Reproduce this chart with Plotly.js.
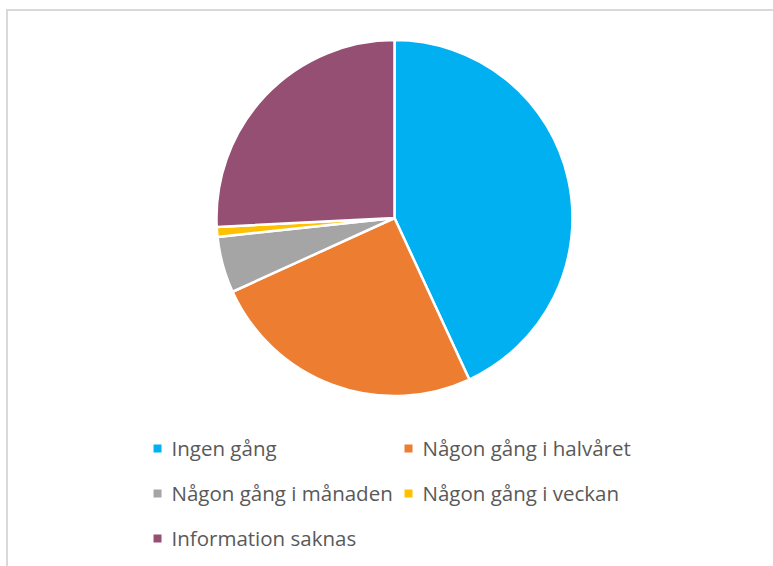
<!DOCTYPE html>
<html>
<head>
<meta charset="utf-8">
<script src="https://cdn.plot.ly/plotly-3.0.1.min.js"></script>
<style>
  html, body { margin: 0; padding: 0; background: #ffffff; }
  #wrap { position: relative; width: 773px; height: 566px; overflow: hidden; }
  #chart { width: 773px; height: 566px; }
  #frame { position: absolute; left: 6px; top: 9px; right: -10px; bottom: -10px;
           border-top: 2px solid #d9d9d9; border-left: 2px solid #d9d9d9; pointer-events: none; }
  /* smaller legend swatches, closer to their labels, as in the reference */
  #chart path.legendpie { d: path("M10,4H2V-4H10Z"); stroke-width: 0 !important; }
</style>
</head>
<body>
<div id="wrap">
  <div id="chart"></div>
  <div id="frame"></div>
</div>
<script>
const categories = ["Ingen gång", "Någon gång i halvåret", "Någon gång i månaden", "Någon gång i veckan", "Information saknas"];
const shares = [43.1, 25.1, 5.1, 0.9, 25.8];
const sliceColors = ["#00B0F0", "#ED7D31", "#A5A5A5", "#FFC000", "#954F72"];

// legend rows in the reference are widely spaced: a large legend font sets the row height,
// while the visible label text is rendered at its own size
const legendLabels = categories.map(c => '<span style="font-size:20.5px;baseline-shift:4.6px">' + c + '</span>');

const trace = {
  type: "pie",
  labels: legendLabels,
  values: shares,
  sort: false,
  direction: "clockwise",
  rotation: 0,
  textinfo: "none",
  hoverinfo: "label+percent",
  marker: { colors: sliceColors, line: { color: "#ffffff", width: 2.5 } },
  domain: { x: [0, 1], y: [0, 1] }
};

const layout = {
  width: 773,
  height: 566,
  margin: { l: 128, r: 112, t: 40, b: 170, autoexpand: false },
  paper_bgcolor: "#ffffff",
  plot_bgcolor: "#ffffff",
  showlegend: true,
  legend: {
    orientation: "h",
    xref: "container", yref: "container",
    x: 0.1792, xanchor: "left",
    y: 0.2562, yanchor: "top",
    indentation: -7,
    entrywidth: 213,
    entrywidthmode: "pixels",
    font: { family: "'Open Sans', Lato, sans-serif", size: 32.3, color: "#595959" },
    bgcolor: "rgba(0,0,0,0)"
  }
};

Plotly.newPlot("chart", [trace], layout, { staticPlot: true, displayModeBar: false });
</script>
</body>
</html>
